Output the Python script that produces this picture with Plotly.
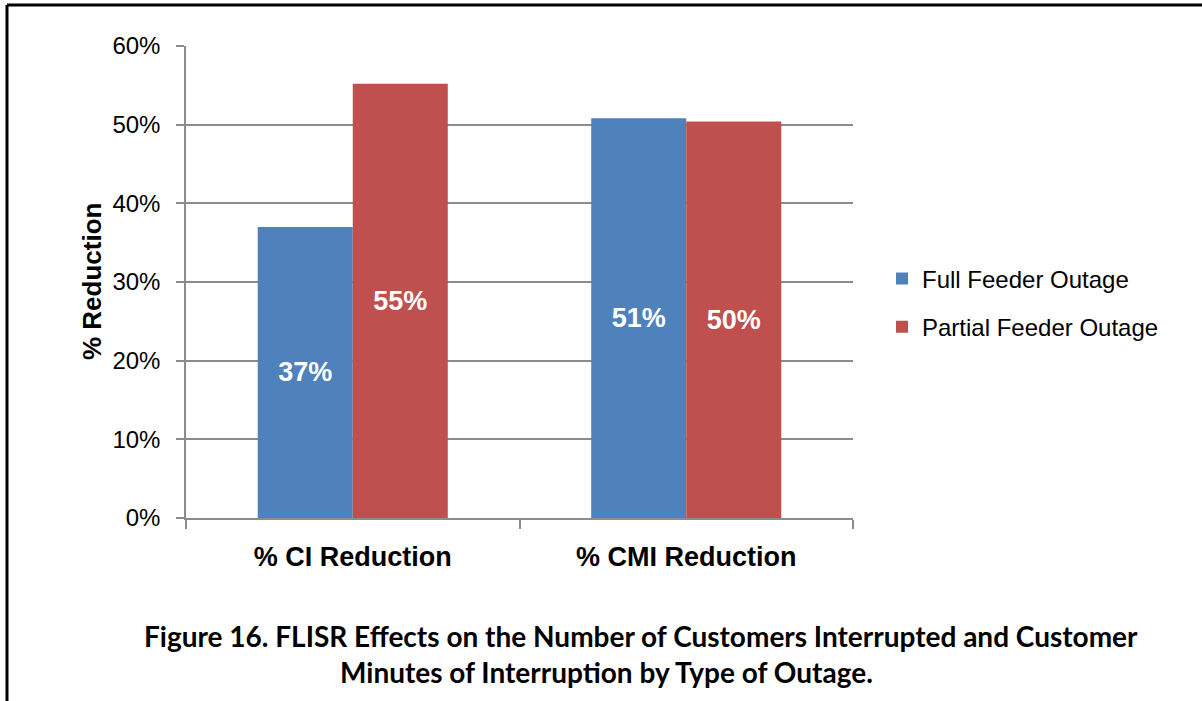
import plotly.graph_objects as go

# Chart data
categories = ["% CI Reduction", "% CMI Reduction"]
full_feeder = [0.370, 0.508]
partial_feeder = [0.552, 0.504]
series_names = ["Full Feeder Outage", "Partial Feeder Outage"]
y_ticks = [0, 0.1, 0.2, 0.3, 0.4, 0.5, 0.6]
caption_lines = [
    "Figure 16. FLISR Effects on the Number of Customers Interrupted and Customer",
    "Minutes of Interruption by Type of Outage.",
]

W, H = 1202, 701
L, R, T, B = 186, 853, 46, 518  # plot area in pixels
pw, ph = R - L, B - T


def px(x):
    return (x - L) / pw


def py(y):
    return (B - y) / ph


SANS = "Liberation Sans, Arial, sans-serif"
CAPTION = "Lato, Calibri, Noto Sans, sans-serif"

fig = go.Figure()
for name, vals, color in [
    (series_names[0], full_feeder, "#4F81BD"),
    (series_names[1], partial_feeder, "#C0504D"),
]:
    fig.add_trace(go.Bar(
        x=categories, y=vals, name=name, legendgroup=name,
        marker=dict(color=color, line=dict(width=0)),
        texttemplate="%{y:.0%}",
        textposition="inside",
        insidetextanchor="middle",
        textangle=0,
        textfont=dict(family=SANS, size=27, color="white", weight="bold"),
        hoverinfo="skip",
    ))

fig.update_layout(
    width=W, height=H,
    margin=dict(l=L, r=W - R, t=T, b=H - B, pad=0),
    paper_bgcolor="white", plot_bgcolor="white",
    barmode="group", bargap=0.43, bargroupgap=0,
    showlegend=True,
    legend=dict(
        x=px(882), y=py(303), xanchor="left", yanchor="middle",
        font=dict(family=SANS, size=24, color="#000"),
        traceorder="grouped", tracegroupgap=14, itemwidth=30,
    ),
    font=dict(family=SANS, color="#000"),
)

fig.update_yaxes(
    range=[0, 0.6], tickvals=y_ticks, tickformat=".0%",
    showgrid=True, gridcolor="#8C8C8C", gridwidth=1.5,
    showline=True, linecolor="#8C8C8C", linewidth=1.5,
    ticks="outside", ticklen=8, tickcolor="#8C8C8C", tickwidth=1.5,
    tickfont=dict(family=SANS, size=24, color="#000"),
    ticklabelstandoff=11,
    zeroline=False,
)
fig.update_xaxes(
    showline=True, linecolor="#8C8C8C", linewidth=1.5,
    ticks="outside", tickson="boundaries", ticklen=9,
    tickcolor="#8C8C8C", tickwidth=1.5,
    tickfont=dict(family=SANS, size=27, color="#000", weight="bold"),
    ticklabelstandoff=14,
)

# Vertical axis title
fig.add_annotation(
    text="% Reduction", textangle=-90,
    xref="paper", yref="paper", x=px(92), y=py(282),
    xanchor="center", yanchor="middle", showarrow=False,
    font=dict(family=SANS, size=26, color="#000", weight="bold"),
)

# Figure caption below the chart
for line, cx, cy in zip(caption_lines, [641, 606], [636, 672]):
    fig.add_annotation(
        text=line, xref="paper", yref="paper", x=px(cx), y=py(cy),
        xanchor="center", yanchor="middle", showarrow=False,
        font=dict(family=CAPTION, size=28, color="#000", weight="bold"),
    )

# Frame lines along the top and left edges
fig.add_shape(type="line", xref="paper", yref="paper",
              x0=px(7), x1=px(1210), y0=py(5), y1=py(5),
              line=dict(color="black", width=3))
fig.add_shape(type="line", xref="paper", yref="paper",
              x0=px(7), x1=px(7), y0=py(5), y1=py(710),
              line=dict(color="black", width=3))

fig.write_html("out.html")
